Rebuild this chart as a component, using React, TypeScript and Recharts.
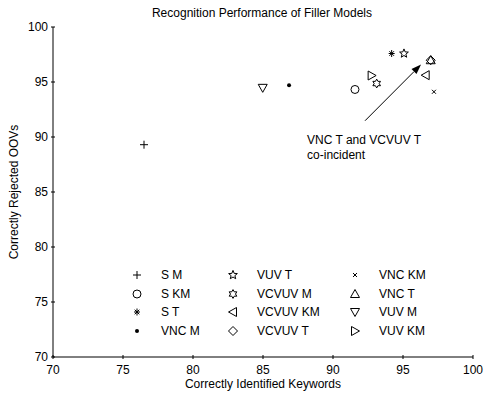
import React from 'react';
import { ScatterChart, Scatter, XAxis, YAxis, ReferenceLine } from 'recharts';

// filler model results (% keywords identified, % OOVs rejected)
const modelNames = ['S M', 'S KM', 'S T', 'VNC M', 'VUV T', 'VCVUV M', 'VCVUV KM', 'VCVUV T', 'VNC KM', 'VNC T', 'VUV M', 'VUV KM'];
const keywordsFound = [76.5, 91.57, 94.19, 86.86, 95.07, 93.12, 96.62, 96.98, 97.21, 96.98, 84.98, 92.76];
const oovsRejected = [89.3, 94.32, 97.59, 94.71, 97.59, 94.86, 95.62, 96.98, 94.11, 96.98, 94.47, 95.59];
const axisTicks = [70, 75, 80, 85, 90, 95, 100];
const arrowStart = { x: 92.29, y: 91.48 };
const arrowEnd = { x: 96.29, y: 96.59 };
const noteLines = ['VNC T and VCVUV T', 'co-incident'];

const markerOf: Record<string, string> = {
	'S M': 'plus', 'S KM': 'circle', 'S T': 'asterisk', 'VNC M': 'point',
	'VUV T': 'pentagram', 'VCVUV M': 'hexagram', 'VCVUV KM': 'tleft', 'VCVUV T': 'diamond',
	'VNC KM': 'x', 'VNC T': 'tup', 'VUV M': 'tdown', 'VUV KM': 'tright'
};

const FONT = '"Liberation Sans", Arial, sans-serif';
const FS = 12;

const starPoints = (cx: number, cy: number, n: number, ro: number, ri: number) => {
	const pts: string[] = [];
	for (let i = 0; i < n * 2; i++) {
		const r = i % 2 === 0 ? ro : ri;
		const a = -Math.PI / 2 + (i * Math.PI) / n;
		pts.push(`${cx + r * Math.cos(a)},${cy + r * Math.sin(a)}`);
	}
	return pts.join(' ');
};

const Marker = ({ kind, cx, cy }: { kind: string; cx: number; cy: number }) => {
	const s = { stroke: '#000', strokeWidth: 1, fill: 'none' };
	switch (kind) {
		case 'plus':
			return <g {...s}><line x1={cx - 4} y1={cy} x2={cx + 4} y2={cy} /><line x1={cx} y1={cy - 4} x2={cx} y2={cy + 4} /></g>;
		case 'circle':
			return <circle cx={cx} cy={cy} r={4} {...s} />;
		case 'asterisk':
			return (
				<g {...s}>
					<line x1={cx - 3} y1={cy} x2={cx + 3} y2={cy} />
					<line x1={cx} y1={cy - 3.5} x2={cx} y2={cy + 3.5} />
					<line x1={cx - 2.3} y1={cy - 2.3} x2={cx + 2.3} y2={cy + 2.3} />
					<line x1={cx - 2.3} y1={cy + 2.3} x2={cx + 2.3} y2={cy - 2.3} />
				</g>
			);
		case 'point':
			return <circle cx={cx} cy={cy} r={2} fill="#000" />;
		case 'pentagram':
			return <polygon points={starPoints(cx, cy, 5, 4.6, 2)} {...s} />;
		case 'hexagram':
			return <polygon points={starPoints(cx, cy, 6, 4.4, 2.5)} {...s} />;
		case 'diamond':
			return <polygon points={`${cx},${cy - 4.5} ${cx + 4.5},${cy} ${cx},${cy + 4.5} ${cx - 4.5},${cy}`} {...s} />;
		case 'x':
			return <g {...s}><line x1={cx - 2} y1={cy - 2} x2={cx + 2} y2={cy + 2} /><line x1={cx - 2} y1={cy + 2} x2={cx + 2} y2={cy - 2} /></g>;
		case 'tup':
			return <polygon points={`${cx},${cy - 4.5} ${cx + 4.5},${cy + 3.5} ${cx - 4.5},${cy + 3.5}`} {...s} />;
		case 'tdown':
			return <polygon points={`${cx},${cy + 4.5} ${cx + 4.5},${cy - 3.5} ${cx - 4.5},${cy - 3.5}`} {...s} />;
		case 'tleft':
			return <polygon points={`${cx - 4.5},${cy} ${cx + 3.5},${cy - 4.5} ${cx + 3.5},${cy + 4.5}`} {...s} />;
		case 'tright':
			return <polygon points={`${cx + 4.5},${cy} ${cx - 3.5},${cy - 4.5} ${cx - 3.5},${cy + 4.5}`} {...s} />;
		default:
			return null;
	}
};

const XTick = (props: any) => {
	const { x, y, payload } = props;
	return (
		<g>
			<line x1={x} y1={y} x2={x} y2={y - 4} stroke="#000" />
			<text x={x} y={y + 15} textAnchor="middle" fontSize={FS} fontFamily={FONT} fill="#000">{payload.value}</text>
		</g>
	);
};

const YTick = (props: any) => {
	const { x, y, payload } = props;
	return (
		<g>
			<line x1={x} y1={y} x2={x + 4} y2={y} stroke="#000" />
			<text x={x - 3} y={y} dy="0.35em" textAnchor="end" fontSize={FS} fontFamily={FONT} fill="#000">{payload.value}</text>
		</g>
	);
};

const Arrow = (props: any) => {
	const { x1, y1, x2, y2 } = props;
	const a = Math.atan2(y2 - y1, x2 - x1);
	const len = 10, hw = 3.5;
	const bx = x2 - len * Math.cos(a), by = y2 - len * Math.sin(a);
	const px = -Math.sin(a) * hw, py = Math.cos(a) * hw;
	return (
		<g>
			<line x1={x1} y1={y1} x2={bx} y2={by} stroke="#000" />
			<polygon points={`${x2},${y2} ${bx + px},${by + py} ${bx - px},${by - py}`} fill="#000" />
			{noteLines.map((t, i) => (
				<text key={t} x={x1 - 58} y={y1 + 23 + i * 15.5} fontSize={FS} fontFamily={FONT} fill="#000">{t}</text>
			))}
		</g>
	);
};

const legendCols = [137, 233, 355];
const legendRows = [275, 293.5, 312, 331];

export default function App() {
	return (
		<div style={{ position: 'absolute', left: 0, top: 0, width: 484, height: 396, background: '#fff', fontFamily: FONT }}>
			<div style={{ position: 'absolute', left: 0, top: 6, width: 524, textAlign: 'center', fontSize: FS, lineHeight: '14px' }}>
				Recognition Performance of Filler Models
			</div>
			<ScatterChart width={484} height={396} margin={{ top: 27, right: 11, left: 8, bottom: 0 }}>
				<XAxis
					type="number"
					dataKey="x"
					domain={[70, 100]}
					ticks={axisTicks}
					interval={0}
					height={39}
					tickSize={0}
					tickLine={false}
					tick={<XTick />}
					axisLine={{ stroke: '#000' }}
					label={{
						content: (p: any) => (
							<text x={p.viewBox.x + p.viewBox.width / 2} y={p.viewBox.y + 31} textAnchor="middle" fontSize={FS} fontFamily={FONT} fill="#000">
								Correctly Identified Keywords
							</text>
						)
					}}
				/>
				<YAxis
					type="number"
					dataKey="y"
					domain={[70, 100]}
					ticks={axisTicks}
					interval={0}
					width={45}
					tickSize={0}
					tickLine={false}
					tick={<YTick />}
					axisLine={{ stroke: '#000' }}
					label={{
						content: (p: any) => {
							const cx = p.viewBox.x + 10, cy = p.viewBox.y + p.viewBox.height / 2;
							return (
								<text x={cx} y={cy} transform={`rotate(-90, ${cx}, ${cy})`} textAnchor="middle" fontSize={FS} fontFamily={FONT} fill="#000">
									Correctly Rejected OOVs
								</text>
							);
						}
					}}
				/>
				<ReferenceLine segment={[arrowStart, arrowEnd]} shape={<Arrow />} />
				{modelNames.map((name, i) => (
					<Scatter
						key={name}
						name={name}
						data={[{ x: keywordsFound[i], y: oovsRejected[i] }]}
						isAnimationActive={false}
						shape={(p: any) => <Marker kind={markerOf[name]} cx={p.cx} cy={p.cy} />}
					/>
				))}
			</ScatterChart>
			{modelNames.map((name, i) => {
				const mx = legendCols[Math.floor(i / 4)];
				const my = legendRows[i % 4];
				return (
					<React.Fragment key={name}>
						<svg style={{ position: 'absolute', left: mx - 6, top: my - 6 }} width={12} height={12}>
							<Marker kind={markerOf[name]} cx={6} cy={6} />
						</svg>
						<div style={{ position: 'absolute', left: mx + 24, top: my - 7, fontSize: FS, lineHeight: '14px', whiteSpace: 'nowrap' }}>
							{name}
						</div>
					</React.Fragment>
				);
			})}
		</div>
	);
}
